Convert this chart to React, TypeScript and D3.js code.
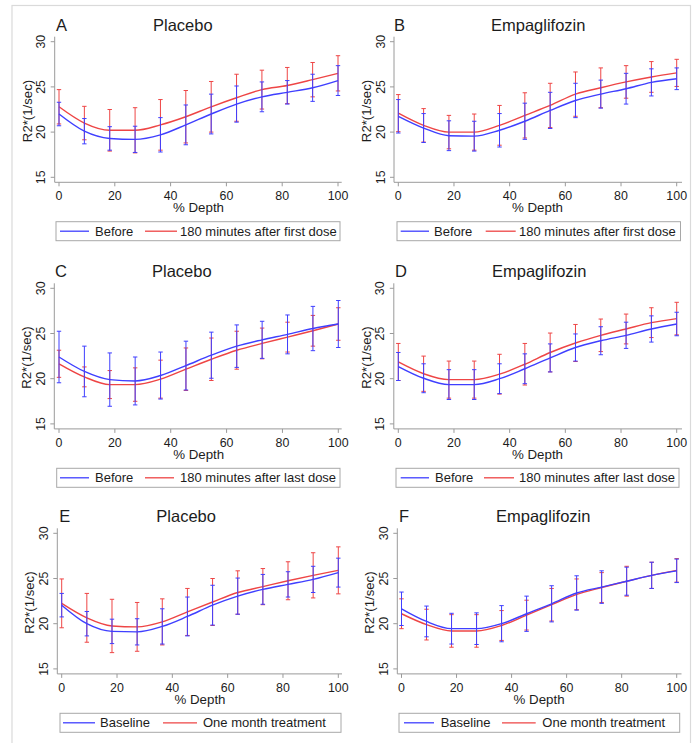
import React from "react";
import * as d3 from "d3";

// ---- data ----
const depth = [0, 9.09, 18.18, 27.27, 36.36, 45.45, 54.55, 63.64, 72.73, 81.82, 90.91, 100];
const xTicks = [0, 20, 40, 60, 80, 100];
const yTicks = [15, 20, 25, 30];

const panelLetters = ["A", "B", "C", "D", "E", "F"];
const panelTitles = ["Placebo", "Empaglifozin", "Placebo", "Empaglifozin", "Placebo", "Empaglifozin"];
const legendBlue = ["Before", "Before", "Before", "Before", "Baseline", "Baseline"];
const legendRed = [
  "180 minutes after first dose",
  "180 minutes after first dose",
  "180 minutes after last dose",
  "180 minutes after last dose",
  "One month treatment",
  "One month treatment",
];

// Panel A
const aBlueMean = [22.0, 20.1, 19.3, 19.2, 19.7, 20.8, 22.0, 23.1, 23.9, 24.4, 24.9, 25.7];
const aBlueErr = [1.3, 1.4, 1.3, 1.45, 1.9, 2.2, 2.2, 2.0, 1.65, 1.3, 1.5, 1.65];
const aRedMean = [22.8, 21.0, 20.2, 20.2, 20.8, 21.7, 22.8, 23.8, 24.7, 25.15, 25.8, 26.5];
const aRedErr = [1.9, 1.85, 2.3, 2.5, 2.8, 2.9, 2.8, 2.6, 2.15, 2.0, 1.9, 1.95];
// Panel B
const bBlueMean = [21.75, 20.45, 19.6, 19.55, 20.2, 21.2, 22.4, 23.5, 24.2, 24.8, 25.5, 25.9];
const bBlueErr = [1.85, 1.6, 1.65, 1.65, 1.85, 2.0, 2.0, 1.9, 1.55, 1.7, 1.5, 1.2];
const bRedMean = [22.1, 20.75, 20.0, 20.0, 20.75, 21.85, 22.95, 24.2, 24.9, 25.55, 26.1, 26.55];
const bRedErr = [2.05, 1.85, 1.85, 2.0, 2.2, 2.5, 2.45, 2.45, 2.2, 1.8, 1.7, 1.5];
// Panel C
const cBlueMean = [22.4, 20.8, 19.9, 19.75, 20.35, 21.45, 22.6, 23.6, 24.3, 24.9, 25.55, 26.05];
const cBlueErr = [2.85, 2.8, 2.95, 2.65, 2.6, 2.7, 2.55, 2.35, 2.05, 2.15, 2.45, 2.6];
const cRedMean = [21.65, 20.2, 19.35, 19.35, 19.95, 21.05, 22.15, 23.15, 23.9, 24.6, 25.3, 26.05];
const cRedErr = [1.5, 1.1, 1.55, 1.85, 2.1, 2.35, 2.35, 2.1, 1.7, 1.65, 1.7, 1.8];
// Panel D
const dBlueMean = [21.35, 20.05, 19.35, 19.35, 20.0, 21.1, 22.3, 23.45, 24.2, 24.8, 25.5, 26.05];
const dBlueErr = [1.55, 1.6, 1.65, 1.65, 1.65, 1.65, 1.55, 1.5, 1.55, 1.45, 1.45, 1.3];
const dRedMean = [21.85, 20.55, 19.9, 19.9, 20.5, 21.6, 22.9, 23.95, 24.8, 25.5, 26.2, 26.65];
const dRedErr = [2.05, 1.95, 2.05, 2.05, 2.2, 2.3, 2.15, 2.05, 1.8, 1.65, 1.65, 1.8];
// Panel E
const eBlueMean = [22.05, 20.0, 19.15, 19.1, 19.7, 20.8, 22.05, 23.05, 23.8, 24.35, 24.9, 25.65];
const eBlueErr = [1.3, 1.35, 1.35, 1.45, 1.95, 2.15, 2.2, 2.0, 1.65, 1.4, 1.45, 1.6];
const eRedMean = [22.25, 20.65, 19.75, 19.65, 20.2, 21.3, 22.4, 23.45, 24.1, 24.75, 25.35, 25.9];
const eRedErr = [2.7, 2.7, 2.95, 2.7, 2.55, 2.6, 2.6, 2.4, 2.0, 2.1, 2.5, 2.6];
// Panel F
const fBlueMean = [21.65, 20.25, 19.45, 19.45, 20.0, 21.1, 22.2, 23.4, 24.05, 24.7, 25.35, 25.85];
const fBlueErr = [1.85, 1.7, 1.7, 1.75, 2.0, 1.95, 2.0, 1.9, 1.8, 1.55, 1.45, 1.3];
const fRedMean = [21.1, 19.9, 19.2, 19.2, 19.8, 20.95, 22.1, 23.25, 24.0, 24.7, 25.35, 25.9];
const fRedErr = [1.65, 1.7, 1.8, 1.8, 1.65, 1.65, 1.8, 1.7, 1.65, 1.65, 1.45, 1.3];

const blueMeans = [aBlueMean, bBlueMean, cBlueMean, dBlueMean, eBlueMean, fBlueMean];
const blueErrs = [aBlueErr, bBlueErr, cBlueErr, dBlueErr, eBlueErr, fBlueErr];
const redMeans = [aRedMean, bRedMean, cRedMean, dRedMean, eRedMean, fRedMean];
const redErrs = [aRedErr, bRedErr, cRedErr, dRedErr, eRedErr, fRedErr];

// ---- layout (positions, not data) ----
const W = 699;
const H = 743;
const rowOff = [0, 246.6, 491.6];
const layouts = [
  { axisL: 54.7, x0: 59, x100: 338, axisR: 341.7, letterX: 56, legL: 56, legR: 340, l1: [60, 89], t1: 95, l2: [145, 177], t2: 180 },
  { axisL: 394, x0: 398.3, x100: 676.7, axisR: 682, letterX: 394, legL: 397, legR: 680.5, l1: [400.7, 429], t1: 434, l2: [485.7, 515.7], t2: 519 },
  { axisL: 54.3, x0: 59, x100: 338.3, axisR: 341.7, letterX: 55, legL: 56.7, legR: 340, l1: [60, 89], t1: 95, l2: [145, 174], t2: 180 },
  { axisL: 393.8, x0: 398.3, x100: 676.7, axisR: 682, letterX: 395, legL: 396, legR: 679, l1: [400.7, 429], t1: 435, l2: [484, 514], t2: 519 },
  { axisL: 57.3, x0: 61.7, x100: 338.3, axisR: 342, letterX: 59.3, legL: 60, legR: 341, l1: [63, 95], t1: 100, l2: [163, 197], t2: 203 },
  { axisL: 397.3, x0: 401.5, x100: 676.7, axisR: 681.5, letterX: 399, legL: 399, legR: 679.7, l1: [404, 434], t1: 440.7, l2: [502, 535.7], t2: 542.3 },
];

const BLUE = "#3f3fff";
const RED = "#ee4545";
const AXIS = "#9a9a9a";
const TEXT = "#1c1c1c";
const FONT = "'Liberation Sans', Arial, Helvetica, sans-serif";

function Panel({ i }: { i: number }) {
  const L = layouts[i];
  const oy = rowOff[Math.floor(i / 2)];
  const x = d3.scaleLinear().domain([0, 100]).range([L.x0, L.x100]);
  const y = d3.scaleLinear().domain([15, 30]).range([oy + 177.3, oy + 41.7]);
  const top = oy + 36.7;
  const bottom = oy + 182.3;
  const line = d3
    .line<number>()
    .x((_, k) => x(depth[k]))
    .y((v) => y(v))
    .curve(d3.curveMonotoneX);

  const series = [
    { mean: redMeans[i], err: redErrs[i], color: RED },
    { mean: blueMeans[i], err: blueErrs[i], color: BLUE },
  ];
  const cap = 2.2;

  return (
    <g>
      {/* title */}
      <text x={L.letterX} y={oy + 30.7} fontSize={16.5} fill={TEXT} fontFamily={FONT}>
        {panelLetters[i]}
      </text>
      <text x={L.letterX + 97} y={oy + 30.7} fontSize={16.5} fill={TEXT} fontFamily={FONT}>
        {panelTitles[i]}
      </text>

      {/* axes */}
      <line x1={L.axisL} x2={L.axisL} y1={top} y2={bottom} stroke={AXIS} strokeWidth={1} />
      <line x1={L.axisL} x2={L.axisR} y1={bottom} y2={bottom} stroke={AXIS} strokeWidth={1} />
      {yTicks.map((t) => (
        <g key={"y" + t}>
          <line x1={L.axisL - 4} x2={L.axisL} y1={y(t)} y2={y(t)} stroke={AXIS} />
          <text
            transform={`translate(${L.axisL - 9.5},${y(t)}) rotate(-90)`}
            textAnchor="middle"
            fontSize={12.4}
            fill={TEXT}
            fontFamily={FONT}
          >
            {t}
          </text>
        </g>
      ))}
      {xTicks.map((t) => (
        <g key={"x" + t}>
          <line x1={x(t)} x2={x(t)} y1={bottom} y2={bottom + 4} stroke={AXIS} />
          <text x={x(t)} y={oy + 200} textAnchor="middle" fontSize={12.4} fill={TEXT} fontFamily={FONT}>
            {t}
          </text>
        </g>
      ))}
      <text
        transform={`translate(${L.axisL - 23},${oy + 111}) rotate(-90)`}
        textAnchor="middle"
        fontSize={13.2}
        fill={TEXT}
        fontFamily={FONT}
      >
        R2*(1/sec)
      </text>
      <text x={(L.x0 + L.x100) / 2} y={oy + 212} textAnchor="middle" fontSize={13.3} fill={TEXT} fontFamily={FONT}>
        % Depth
      </text>

      {/* series */}
      {series.map((s, si) => (
        <g key={"s" + si}>
          {s.mean.map((m, k) => {
            const xx = x(depth[k]);
            const y1 = y(m + s.err[k]);
            const y2 = y(m - s.err[k]);
            return (
              <g key={k} stroke={s.color} strokeWidth={1}>
                <line x1={xx} x2={xx} y1={y1} y2={y2} />
                <line x1={xx - cap} x2={xx + cap} y1={y1} y2={y1} />
                <line x1={xx - cap} x2={xx + cap} y1={y2} y2={y2} />
              </g>
            );
          })}
          <path d={line(s.mean) || ""} fill="none" stroke={s.color} strokeWidth={1.4} />
        </g>
      ))}

      {/* legend */}
      <rect
        x={L.legL}
        y={oy + 221.7}
        width={L.legR - L.legL}
        height={19}
        fill="#ffffff"
        stroke="#a8a8a8"
        strokeWidth={1}
      />
      <line x1={L.l1[0]} x2={L.l1[1]} y1={oy + 231.2} y2={oy + 231.2} stroke={BLUE} strokeWidth={1.3} />
      <text x={L.t1} y={oy + 235.5} fontSize={13} fill={TEXT} fontFamily={FONT}>
        {legendBlue[i]}
      </text>
      <line x1={L.l2[0]} x2={L.l2[1]} y1={oy + 231.2} y2={oy + 231.2} stroke={RED} strokeWidth={1.3} />
      <text x={L.t2} y={oy + 235.5} fontSize={13} fill={TEXT} fontFamily={FONT}>
        {legendRed[i]}
      </text>
    </g>
  );
}

export default function App() {
  return (
    <svg
      width={W}
      height={H}
      viewBox={`0 0 ${W} ${H}`}
      style={{ position: "absolute", left: 0, top: 0, background: "#ffffff" }}
    >
      <rect x={0} y={0} width={W} height={H} fill="#ffffff" />
      <rect x={12} y={5.5} width={678.5} height={H + 10} fill="none" stroke="#dadada" strokeWidth={1.2} />
      {panelLetters.map((_, i) => (
        <Panel key={i} i={i} />
      ))}
    </svg>
  );
}
